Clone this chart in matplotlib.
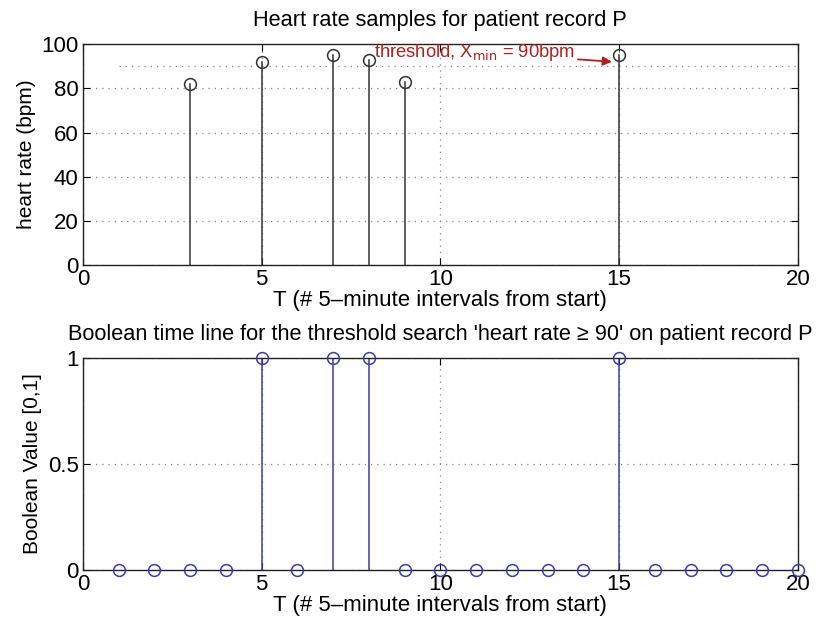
import matplotlib
matplotlib.use('Agg')
import matplotlib.pyplot as plt

plt.rcParams['font.family'] = ['Liberation Sans', 'DejaVu Sans']

# heart rate samples (time index, bpm)
hr_times = [3, 5, 7, 8, 9, 15]
hr_values = [82, 92, 95, 93, 83, 95]
threshold = 90
threshold_span = [1, 20]

# boolean time line
bool_times = list(range(1, 21))
bool_values = [0, 0, 0, 0, 1, 0, 1, 1, 0, 0, 0, 0, 0, 0, 1, 0, 0, 0, 0, 0]

xticks = [0, 5, 10, 15, 20]
hr_yticks = [0, 20, 40, 60, 80, 100]
bool_yticks = [0, 0.5, 1]

xlabel = 'T (# 5\u2013minute intervals from start)'
blue = '#3c3ca8'
dark = '#333333'


def style_axes(ax):
    '''Estilo tipo MATLAB: ticks hacia dentro y rejilla punteada'''
    ax.tick_params(direction='in', top=True, right=True, labelsize=16, length=5, pad=3)
    ax.grid(True, linestyle=(0, (1, 4)), color='#888888', linewidth=0.9)
    for s in ax.spines.values():
        s.set_color('#222222')
        s.set_linewidth(1.0)


fig = plt.figure(figsize=(8.2, 6.21), dpi=100)

# --- heart rate samples ---
ax1 = fig.add_axes([0.101, 0.573, 0.872, 0.356])
style_axes(ax1)
ax1.plot(threshold_span, [threshold, threshold], linestyle=(0, (1, 4)), color='#888888', linewidth=0.9)
for t, v in zip(hr_times, hr_values):
    ax1.plot([t, t], [0, v], color=dark, linewidth=1.1)
ax1.plot(hr_times, hr_values, 'o', markerfacecolor='none', markeredgecolor=dark, markersize=8.5, markeredgewidth=1.1)
ax1.set_xlim(0, 20)
ax1.set_ylim(0, 100)
ax1.set_xticks(xticks)
ax1.set_yticks(hr_yticks)
ax1.set_title('Heart rate samples for patient record P', fontsize=15.7, pad=13)
ax1.set_xlabel(xlabel, fontsize=16, labelpad=0)
ax1.set_ylabel('heart rate (bpm)', fontsize=15, labelpad=4)
ax1.annotate('threshold, X$_{\\mathrm{min}}$ = 90bpm', xy=(14.8, 92), xytext=(8.15, 96.4),
             color='#b02020', fontsize=13.2, va='center',
             arrowprops=dict(arrowstyle='-|>', color='#b02020', lw=1.3, shrinkA=0, shrinkB=0))

# --- boolean time line ---
ax2 = fig.add_axes([0.101, 0.082, 0.872, 0.3415])
style_axes(ax2)
for t, v in zip(bool_times, bool_values):
    if v > 0:
        ax2.plot([t, t], [0, v], color=blue, linewidth=1.1)
ax2.plot(bool_times, bool_values, 'o', markerfacecolor='none', markeredgecolor=blue, markersize=8.5,
         markeredgewidth=1.1, clip_on=False, zorder=5)
ax2.set_xlim(0, 20)
ax2.set_ylim(0, 1)
ax2.set_xticks(xticks)
ax2.set_yticks(bool_yticks)
ax2.set_yticklabels(['0', '0.5', '1'])
ax2.set_title("Boolean time line for the threshold search 'heart rate \u2265 90' on patient record P",
              fontsize=15.7, pad=13)
ax2.set_xlabel(xlabel, fontsize=16, labelpad=0)
ax2.set_ylabel('Boolean Value [0,1]', fontsize=15, labelpad=4)

fig.savefig('out.png', dpi=100)
